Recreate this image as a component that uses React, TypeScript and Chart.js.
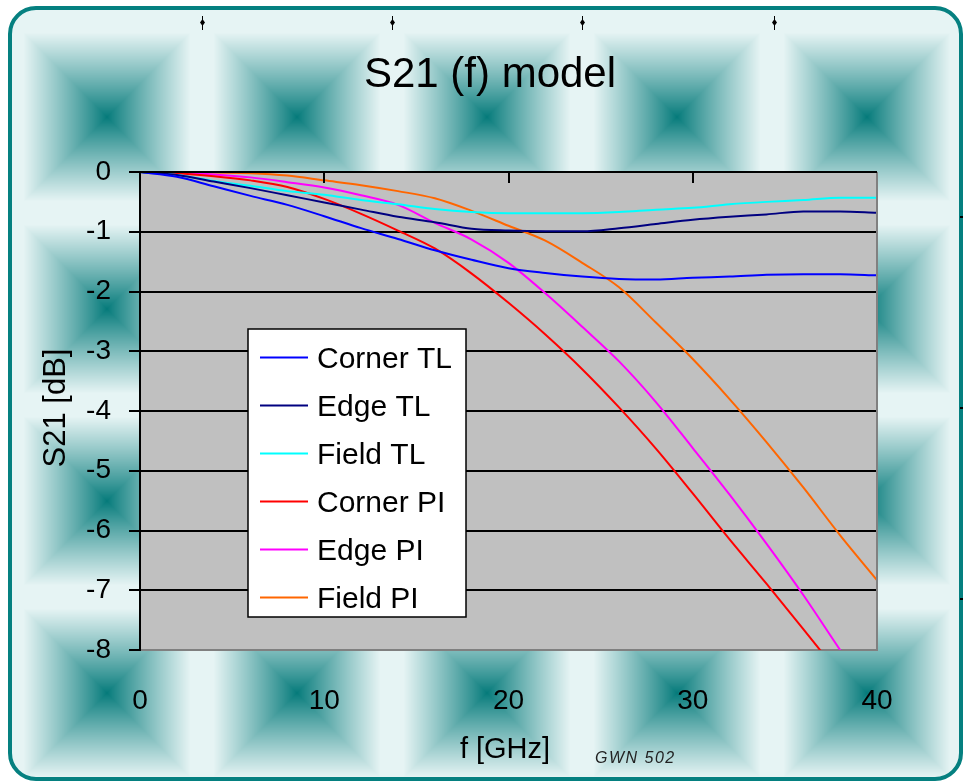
import React, { useEffect, useRef } from "react";
import { Chart, registerables } from "chart.js";

Chart.register(...registerables);

const FREQ_GHZ = [0, 2, 4, 6, 8, 10, 12, 14, 16, 18, 20, 22, 24, 26, 28, 30, 32, 34, 36, 38, 40];
const CORNER_TL = [0, -0.08, -0.24, -0.4, -0.55, -0.74, -0.94, -1.12, -1.31, -1.47, -1.61, -1.69, -1.75, -1.79, -1.8, -1.77, -1.75, -1.72, -1.71, -1.71, -1.73];
const EDGE_TL = [0, -0.05, -0.16, -0.27, -0.39, -0.51, -0.63, -0.75, -0.84, -0.95, -0.98, -0.99, -0.99, -0.94, -0.87, -0.8, -0.75, -0.71, -0.66, -0.66, -0.68];
const FIELD_TL = [0, -0.05, -0.15, -0.23, -0.32, -0.38, -0.47, -0.54, -0.62, -0.67, -0.69, -0.69, -0.69, -0.67, -0.63, -0.6, -0.54, -0.5, -0.47, -0.43, -0.43];
const CORNER_PI = [0, -0.02, -0.07, -0.14, -0.25, -0.45, -0.7, -0.98, -1.28, -1.7, -2.19, -2.72, -3.3, -3.94, -4.63, -5.38, -6.15, -6.89, -7.65, -8.42, -9.2];
const EDGE_PI = [0, -0.01, -0.04, -0.09, -0.17, -0.26, -0.39, -0.55, -0.85, -1.13, -1.52, -2.03, -2.59, -3.17, -3.85, -4.62, -5.4, -6.22, -7.08, -8.0, -8.9];
const FIELD_PI = [0, 0, -0.01, -0.02, -0.06, -0.14, -0.22, -0.32, -0.44, -0.65, -0.9, -1.15, -1.52, -1.93, -2.52, -3.13, -3.8, -4.52, -5.28, -6.08, -6.83];

const SERIES_LABELS = ["Corner TL", "Edge TL", "Field TL", "Corner PI", "Edge PI", "Field PI"];
const SERIES_VALUES = [CORNER_TL, EDGE_TL, FIELD_TL, CORNER_PI, EDGE_PI, FIELD_PI];
const SERIES_COLORS = ["#0000ff", "#000080", "#00ffff", "#ff0000", "#ff00ff", "#ff6600"];

const X_TICKS = [0, 10, 20, 30, 40];
const TITLE = "S21 (f) model";
const X_TITLE = "f [GHz]";
const Y_TITLE = "S21 [dB]";
const NOTE = "GWN 502";

const W = 964;
const H = 782;
const FONT = "'Liberation Sans', Arial, sans-serif";

function makeTile(w: number, h: number) {
  const c = document.createElement("canvas");
  c.width = w;
  c.height = h;
  const g = c.getContext("2d")!;
  const img = g.createImageData(w, h);
  const teal = [4, 122, 122];
  const light = [230, 244, 244];
  const cx = w / 2;
  const cy = h / 2;
  for (let y = 0; y < h; y++) {
    for (let x = 0; x < w; x++) {
      const dx = Math.abs(x + 0.5 - cx) / (w / 2);
      const dy = Math.abs(y + 0.5 - cy) / (h / 2);
      const d = Math.max(dx, dy);
      let t = Math.min(1, d / 0.88);
      t = Math.pow(t, 0.9);
      const i = (y * w + x) * 4;
      img.data[i] = teal[0] + (light[0] - teal[0]) * t;
      img.data[i + 1] = teal[1] + (light[1] - teal[1]) * t;
      img.data[i + 2] = teal[2] + (light[2] - teal[2]) * t;
      img.data[i + 3] = 255;
    }
  }
  g.putImageData(img, 0, 0);
  return c;
}

function roundRect(ctx: CanvasRenderingContext2D, x: number, y: number, w: number, h: number, r: number) {
  ctx.beginPath();
  ctx.moveTo(x + r, y);
  ctx.lineTo(x + w - r, y);
  ctx.arcTo(x + w, y, x + w, y + r, r);
  ctx.lineTo(x + w, y + h - r);
  ctx.arcTo(x + w, y + h, x + w - r, y + h, r);
  ctx.lineTo(x + r, y + h);
  ctx.arcTo(x, y + h, x, y + h - r, r);
  ctx.lineTo(x, y + r);
  ctx.arcTo(x, y, x + r, y, r);
  ctx.closePath();
}

const decorPlugin = {
  id: "decor",
  beforeDraw(chart: any) {
    const ctx: CanvasRenderingContext2D = chart.ctx;
    const area = chart.chartArea;
    ctx.save();
    ctx.fillStyle = "#ffffff";
    ctx.fillRect(0, 0, W, H);
    const tile = makeTile(190, 192);
    const pat = ctx.createPattern(tile, "repeat")!;
    pat.setTransform(new DOMMatrix().translate(107 - 95, 117 - 96));
    roundRect(ctx, 10, 8, 951, 771, 26);
    ctx.fillStyle = pat;
    ctx.fill();
    ctx.lineWidth = 4;
    ctx.strokeStyle = "#058080";
    ctx.stroke();
    ctx.fillStyle = "#000";
    ctx.strokeStyle = "#000";
    ctx.lineWidth = 1;
    [202, 392, 582, 774].forEach((mx) => {
      ctx.beginPath();
      ctx.moveTo(mx + 0.5, 16);
      ctx.lineTo(mx + 0.5, 30);
      ctx.stroke();
      ctx.beginPath();
      ctx.moveTo(mx + 0.5, 19);
      ctx.lineTo(mx + 3, 22.5);
      ctx.lineTo(mx + 0.5, 26);
      ctx.lineTo(mx - 2, 22.5);
      ctx.closePath();
      ctx.fill();
    });
    [216, 407, 598].forEach((my) => {
      ctx.fillRect(960, my, 3, 2);
    });
    ctx.fillStyle = "#c0c0c0";
    ctx.fillRect(area.left, area.top, area.right - area.left, area.bottom - area.top);
    ctx.fillStyle = "#000";
    ctx.textAlign = "center";
    ctx.textBaseline = "alphabetic";
    ctx.font = `42px ${FONT}`;
    ctx.fillText(TITLE, 490, 87);
    ctx.font = `29px ${FONT}`;
    ctx.fillText(X_TITLE, 505, 758);
    ctx.save();
    ctx.translate(65, 408);
    ctx.rotate(-Math.PI / 2);
    ctx.font = `31px ${FONT}`;
    ctx.fillText(Y_TITLE, 0, 0);
    ctx.restore();
    ctx.textAlign = "left";
    ctx.font = `italic 16px ${FONT}`;
    (ctx as any).letterSpacing = "1.5px";
    ctx.fillStyle = "#222";
    ctx.fillText(NOTE, 595, 763);
    (ctx as any).letterSpacing = "0px";
    ctx.restore();
  },
  afterDraw(chart: any) {
    const ctx: CanvasRenderingContext2D = chart.ctx;
    const area = chart.chartArea;
    const xs = chart.scales.x;
    ctx.save();
    ctx.strokeStyle = "#808080";
    ctx.lineWidth = 2;
    ctx.beginPath();
    ctx.moveTo(area.right, area.top);
    ctx.lineTo(area.right, area.bottom + 1);
    ctx.stroke();
    ctx.strokeStyle = "#000";
    ctx.lineWidth = 2;
    ctx.beginPath();
    ctx.moveTo(area.left, area.top);
    ctx.lineTo(area.right, area.top);
    ctx.stroke();
    X_TICKS.slice(1, -1).forEach((v) => {
      const px = Math.round(xs.getPixelForValue(v));
      ctx.beginPath();
      ctx.moveTo(px, area.top);
      ctx.lineTo(px, area.top + 11);
      ctx.stroke();
    });
    const lx = 248, ly = 329, lw = 218, lh = 288;
    ctx.fillStyle = "#ffffff";
    ctx.fillRect(lx, ly, lw, lh);
    ctx.strokeStyle = "#000";
    ctx.lineWidth = 1.5;
    ctx.strokeRect(lx, ly, lw, lh);
    ctx.font = `30px ${FONT}`;
    ctx.textAlign = "left";
    ctx.textBaseline = "alphabetic";
    chart.data.datasets.forEach((ds: any, i: number) => {
      const yy = 357.5 + i * 48;
      ctx.strokeStyle = ds.borderColor;
      ctx.lineWidth = 2;
      ctx.beginPath();
      ctx.moveTo(260, yy);
      ctx.lineTo(308, yy);
      ctx.stroke();
      ctx.fillStyle = "#000";
      ctx.fillText(ds.label, 317, yy + 10.5);
    });
    ctx.restore();
  },
};

export default function App() {
  const ref = useRef<HTMLCanvasElement>(null);
  useEffect(() => {
    if (!ref.current) return;
    const chart = new Chart(ref.current, {
      type: "line",
      data: {
        datasets: SERIES_LABELS.map((label, i) => ({
          label,
          data: FREQ_GHZ.map((f, j) => ({ x: f, y: SERIES_VALUES[i][j] })),
          borderColor: SERIES_COLORS[i],
          backgroundColor: SERIES_COLORS[i],
          borderWidth: 2,
          pointRadius: 0,
          fill: false,
          cubicInterpolationMode: "monotone" as const,
        })),
      },
      options: {
        responsive: false,
        animation: false,
        layout: { padding: { left: 0, top: 172, right: 87, bottom: 0 } },
        plugins: { legend: { display: false }, tooltip: { enabled: false }, title: { display: false } },
        scales: {
          x: {
            type: "linear",
            min: 0,
            max: 40,
            afterFit: (s: any) => { s.height = 132; },
            afterBuildTicks: (s: any) => { s.ticks = X_TICKS.map((v) => ({ value: v })); },
            grid: { display: false, drawTicks: false },
            border: { display: true, color: "#808080", width: 2 },
            ticks: { color: "#000", padding: 34, font: { family: FONT, size: 28 }, maxRotation: 0 },
          },
          y: {
            min: -8,
            max: 0,
            afterFit: (s: any) => { s.width = 140; },
            grid: {
              color: (c: any) => (c.tick && c.tick.value === -8 ? "rgba(0,0,0,0)" : "#000"),
              lineWidth: 2,
              tickColor: "#000",
              tickLength: 11,
              drawTicks: true,
            },
            border: { display: true, color: "#000", width: 2 },
            ticks: { stepSize: 1, color: "#000", padding: 18, font: { family: FONT, size: 28 } },
          },
        },
      },
      plugins: [decorPlugin],
    });
    return () => chart.destroy();
  }, []);
  return (
    <div style={{ position: "fixed", left: 0, top: 0, width: W, height: H }}>
      <canvas ref={ref} width={W} height={H} style={{ width: W, height: H, display: "block" }} />
    </div>
  );
}
